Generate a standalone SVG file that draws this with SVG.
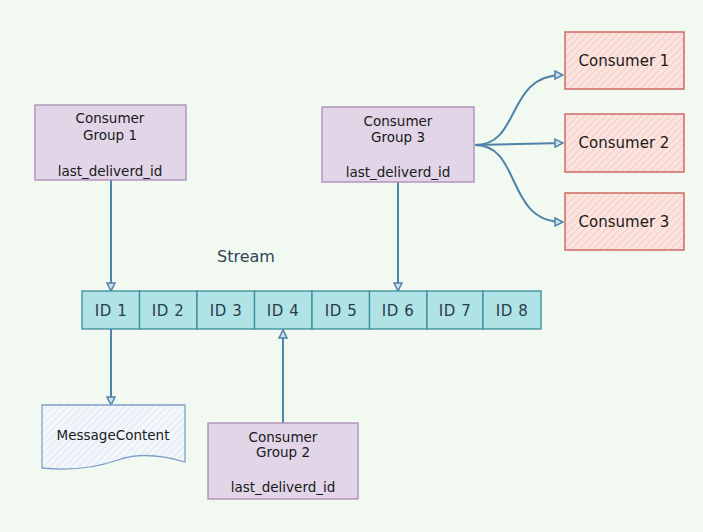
<svg xmlns="http://www.w3.org/2000/svg" width="703" height="532" viewBox="0 0 703 532">
<style>
text{font-family:"DejaVu Sans","Liberation Sans",sans-serif;fill:#1a1a1a;text-anchor:middle}
.grp{fill:#e1d5e7;stroke:#a98bb5;stroke-width:1.3}
.gt{font-size:13.5px}
.cell{fill:#b0e3e6;stroke:#3a8d9c;stroke-width:1.3}
.idt{font-size:15px;fill:#2b3c4a;letter-spacing:0.6px}
.cons{fill:url(#hatchR);stroke:#d0605c;stroke-width:1.4}
.ct{font-size:15px}
.conn{fill:none;stroke:#4f83a8;stroke-width:2}
</style>
<defs>
<pattern id="hatchR" patternUnits="userSpaceOnUse" width="5" height="5" patternTransform="rotate(45)">
<rect width="5" height="5" fill="#fbe3de"/>
<line x1="0" y1="0" x2="0" y2="5" stroke="#efb6ad" stroke-width="1"/>
</pattern>
<pattern id="hatchB" patternUnits="userSpaceOnUse" width="5" height="5" patternTransform="rotate(45)">
<rect width="5" height="5" fill="#f3f7fb"/>
<line x1="0" y1="0" x2="0" y2="5" stroke="#c9d8ea" stroke-width="1"/>
</pattern>
<marker id="arr" viewBox="0 0 10 10" refX="9" refY="5" markerWidth="10" markerHeight="10" markerUnits="userSpaceOnUse" orient="auto">
<path d="M1,1 L9,5 L1,9 Z" fill="#cfe0ea" stroke="#4f83a8" stroke-width="1.5"/>
</marker>
</defs>
<rect width="703" height="532" fill="#f1f9f0"/>

<g id="connectors">
<line class="conn" x1="111" y1="180" x2="111" y2="291" marker-end="url(#arr)"/>
<line class="conn" x1="398" y1="182" x2="398" y2="291" marker-end="url(#arr)"/>
<line class="conn" x1="111" y1="329" x2="111" y2="405" marker-end="url(#arr)"/>
<line class="conn" x1="283" y1="423" x2="283" y2="330" marker-end="url(#arr)"/>
<path class="conn" d="M475,145 C522,145 505,75 563,75" marker-end="url(#arr)"/>
<path class="conn" d="M475,145 L563,143" marker-end="url(#arr)"/>
<path class="conn" d="M475,145 C522,145 505,222 563,222" marker-end="url(#arr)"/>
</g>

<g id="group1">
<rect class="grp" x="35" y="105" width="151" height="75"/>
<text class="gt" x="110" y="123">Consumer</text>
<text class="gt" x="110" y="140">Group 1</text>
<text class="gt" x="110" y="176">last_deliverd_id</text>
</g>

<g id="group3">
<rect class="grp" x="322" y="107" width="152" height="75"/>
<text class="gt" x="398" y="126">Consumer</text>
<text class="gt" x="398" y="142">Group 3</text>
<text class="gt" x="398" y="177">last_deliverd_id</text>
</g>

<g id="group2">
<rect class="grp" x="208" y="423" width="150" height="76"/>
<text class="gt" x="283" y="442">Consumer</text>
<text class="gt" x="283" y="457">Group 2</text>
<text class="gt" x="283" y="492">last_deliverd_id</text>
</g>

<g id="consumer1">
<rect class="cons" x="565" y="32" width="119" height="57"/>
<text class="ct" x="624" y="66">Consumer 1</text>
</g>
<g id="consumer2">
<rect class="cons" x="565" y="114" width="119" height="58"/>
<text class="ct" x="624" y="148">Consumer 2</text>
</g>
<g id="consumer3">
<rect class="cons" x="565" y="193" width="119" height="57"/>
<text class="ct" x="624" y="227">Consumer 3</text>
</g>

<g id="stream">
<text x="246" y="262" style="font-size:16px;fill:#2f4658">Stream</text>
<rect class="cell" x="82" y="291" width="57.5" height="38"/>
<rect class="cell" x="139.5" y="291" width="57.5" height="38"/>
<rect class="cell" x="197" y="291" width="57.5" height="38"/>
<rect class="cell" x="254.5" y="291" width="57.5" height="38"/>
<rect class="cell" x="312" y="291" width="57.5" height="38"/>
<rect class="cell" x="369.5" y="291" width="57.5" height="38"/>
<rect class="cell" x="427" y="291" width="56" height="38"/>
<rect class="cell" x="483" y="291" width="58" height="38"/>
<text class="idt" x="111" y="316">ID 1</text>
<text class="idt" x="168" y="316">ID 2</text>
<text class="idt" x="226" y="316">ID 3</text>
<text class="idt" x="283" y="316">ID 4</text>
<text class="idt" x="341" y="316">ID 5</text>
<text class="idt" x="398" y="316">ID 6</text>
<text class="idt" x="455" y="316">ID 7</text>
<text class="idt" x="512" y="316">ID 8</text>
</g>

<g id="messagecontent">
<path d="M42,405 H185 V462 C165,456 140,452 118,460 C95,468 70,471 42,468 Z" fill="url(#hatchB)" stroke="#7f9fc8" stroke-width="1.3"/>
<text x="113" y="440" style="font-size:13.5px">MessageContent</text>
</g>
</svg>
